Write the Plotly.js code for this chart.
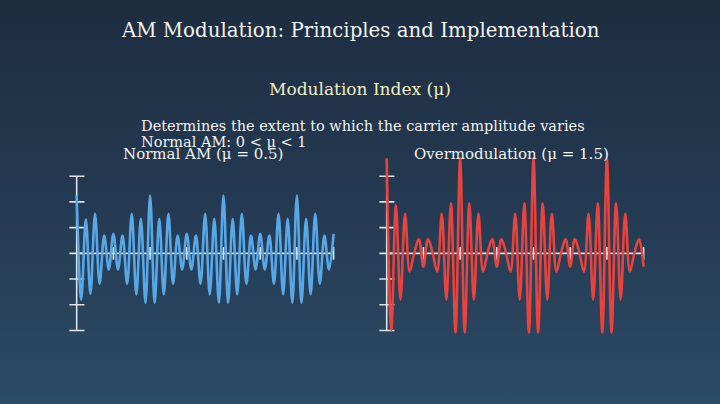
<!DOCTYPE html>
<html>
<head>
<meta charset="utf-8">
<script src="https://cdn.plot.ly/plotly-3.0.1.min.js"></script>
<style>
  html, body { margin:0; padding:0; width:720px; height:404px; overflow:hidden;
    background: linear-gradient(180deg, #1d2d40 0%, #243a52 50%, #2d4a66 100%); }
  #chart { width:720px; height:404px; }
</style>
</head>
<body>
<div id="chart"></div>
<script>
// time positions of the carrier extrema (axis units)
const t = [0,0.125,0.25,0.375,0.5,0.625,0.75,0.875,1,1.125,1.25,1.375,1.5,1.625,1.75,1.875,
           2,2.125,2.25,2.375,2.5,2.625,2.75,2.875,3,3.125,3.25,3.375,3.5,3.625,3.75,3.875,
           4,4.125,4.25,4.375,4.5,4.625,4.75,4.875,5,5.125,5.25,5.375,5.5,5.625,5.75,5.875,
           6,6.125,6.25,6.375,6.5,6.625,6.75,6.875,7];

// Normal AM (mu = 0.5): values at the extrema
const normalAM = [2.25,-1.80,1.32,-1.58,1.54,-1.19,0.69,-0.63,0.76,-0.63,0.69,-1.19,1.54,-1.60,1.34,-1.93,
                  2.25,-1.93,1.34,-1.60,1.54,-1.19,0.69,-0.63,0.76,-0.63,0.69,-1.19,1.54,-1.60,1.34,-1.93,
                  2.25,-1.93,1.34,-1.60,1.54,-1.19,0.69,-0.63,0.76,-0.63,0.69,-1.19,1.54,-1.60,1.34,-1.93,
                  2.25,-1.93,1.34,-1.60,1.54,-1.19,0.69,-0.63,0.76];

// Overmodulation (mu = 1.5)
const overMod = [3.70,-2.98,1.88,-1.80,1.54,-0.71,0.02,0.56,-0.52,0.56,0.02,-0.71,1.54,-1.80,1.95,-3.08,
                 3.70,-3.08,1.95,-1.80,1.54,-0.71,0.02,0.56,-0.52,0.56,0.02,-0.71,1.54,-1.80,1.95,-3.08,
                 3.70,-3.08,1.95,-1.80,1.54,-0.71,0.02,0.56,-0.52,0.56,0.02,-0.71,1.54,-1.80,1.95,-3.08,
                 3.70,-3.08,1.95,-1.80,1.54,-0.71,0.02,0.56,-0.52];

// axis tick positions
const xTicks = [1,2,3,4,5,6,7];
const yTicks = [-3,-2,-1,0,1,2,3];

const axisColor = '#dfe3e8';
const blue = '#58a8e8';
const red = '#e8433c';

function axisTraces(xa, ya) {
  const xmin = 0, xmax = Math.max(...xTicks);
  const ymin = Math.min(...yTicks), ymax = Math.max(...yTicks);
  return [
    {x:[xmin, xmax], y:[0,0], xaxis:xa, yaxis:ya, mode:'lines', line:{color:axisColor, width:1.6}, hoverinfo:'skip'},
    {x:[xmin, xmin], y:[ymin, ymax], xaxis:xa, yaxis:ya, mode:'lines', line:{color:axisColor, width:1.6}, hoverinfo:'skip'},
    {x:xTicks, y:xTicks.map(()=>0), xaxis:xa, yaxis:ya, mode:'markers',
      marker:{symbol:'line-ns-open', size:9, color:axisColor, line:{color:axisColor, width:1.6}}, hoverinfo:'skip'},
    {x:yTicks.map(()=>xmin), y:yTicks, xaxis:xa, yaxis:ya, mode:'markers',
      marker:{symbol:'line-ew-open', size:11, color:axisColor, line:{color:axisColor, width:1.6}}, hoverinfo:'skip'}
  ];
}

const data = [
  ...axisTraces('x','y'),
  {x:t, y:normalAM, xaxis:'x', yaxis:'y', mode:'lines', line:{color:blue, width:2.6, shape:'spline', smoothing:1}, hoverinfo:'skip'},
  ...axisTraces('x2','y2'),
  {x:t, y:overMod, xaxis:'x2', yaxis:'y2', mode:'lines', line:{color:red, width:2.6, shape:'spline', smoothing:1}, hoverinfo:'skip'}
];

const hidden = {showgrid:false, zeroline:false, showline:false, showticklabels:false, ticks:'', fixedrange:true};
const serif = 'DejaVu Serif, serif';

const layout = {
  width:720, height:404,
  margin:{l:0, r:0, t:0, b:0},
  paper_bgcolor:'rgba(0,0,0,0)',
  plot_bgcolor:'rgba(0,0,0,0)',
  showlegend:false,
  xaxis: Object.assign({range:[-0.2,7.2], domain:[0.0963,0.4735], anchor:'y'}, hidden),
  yaxis: Object.assign({range:[-3.5,4.0], domain:[0.1502,0.6275], anchor:'x'}, hidden),
  xaxis2: Object.assign({range:[-0.2,7.2], domain:[0.5269,0.9041], anchor:'y2'}, hidden),
  yaxis2: Object.assign({range:[-3.5,4.0], domain:[0.1502,0.6275], anchor:'x2'}, hidden),
  annotations: [
    {text:'AM Modulation: Principles and Implementation', xref:'paper', yref:'paper', x:0.5, y:0.9245,
      xanchor:'center', yanchor:'middle', showarrow:false, font:{family:serif, size:19.8, color:'#f2f2f2'}},
    {text:'Modulation Index (μ)', xref:'paper', yref:'paper', x:0.5, y:0.780,
      xanchor:'center', yanchor:'middle', showarrow:false, font:{family:serif, size:17, color:'#f1eec4'}},
    {text:'Determines the extent to which the carrier amplitude varies', xref:'paper', yref:'paper', x:0.1925, y:0.688,
      xanchor:'left', yanchor:'middle', showarrow:false, font:{family:serif, size:14.5, color:'#f2f2f2'}},
    {text:'Normal AM: 0 < μ < 1', xref:'paper', yref:'paper', x:0.1925, y:0.6485,
      xanchor:'left', yanchor:'middle', showarrow:false, font:{family:serif, size:14.5, color:'#f2f2f2'}},
    {text:'Normal AM (μ = 0.5)', xref:'paper', yref:'paper', x:0.282, y:0.620,
      xanchor:'center', yanchor:'middle', showarrow:false, font:{family:serif, size:15, color:'#f2f2f2'}},
    {text:'Overmodulation (μ = 1.5)', xref:'paper', yref:'paper', x:0.711, y:0.620,
      xanchor:'center', yanchor:'middle', showarrow:false, font:{family:serif, size:15, color:'#f2f2f2'}}
  ]
};

Plotly.newPlot('chart', data, layout, {displayModeBar:false, staticPlot:true});
</script>
</body>
</html>
